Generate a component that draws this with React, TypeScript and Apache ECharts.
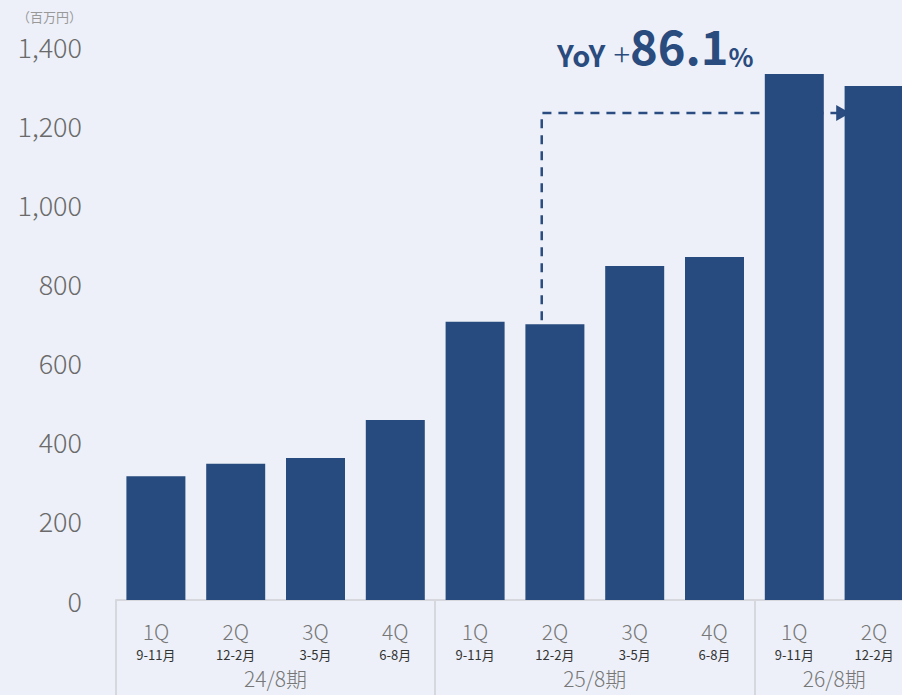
import React, { useEffect, useRef } from "react";
import * as echarts from "echarts";

const quarters = ["1Q", "2Q", "3Q", "4Q", "1Q", "2Q", "3Q", "4Q", "1Q", "2Q"];
const months = ["9-11月", "12-2月", "3-5月", "6-8月", "9-11月", "12-2月", "3-5月", "6-8月", "9-11月", "12-2月"];
const sales = [313, 344, 359, 455, 703, 697, 844, 867, 1329, 1299];
const periods = ["24/8期", "25/8期", "26/8期"];
const periodFirst = [0, 4, 8];
const periodLast = [3, 7, 9];
const yMin = 0;
const yMax = 1400;
const yInterval = 200;
const unitLabel = "（百万円）";
const yoyValue = "86.1";
const yoyFrom = 5;
const yoyTo = 9;
const arrowLevel = 1231;

const FONT = "'Noto Sans CJK JP', 'Noto Sans', sans-serif";
const NAVY = "#274b7e";
const BG = "#edf0f8";

export default function App() {
  const ref = useRef<HTMLDivElement>(null);
  useEffect(() => {
    document.body.style.margin = "0";
    const chart = echarts.init(ref.current!, null, { renderer: "svg" });
    chart.setOption({
      animation: false,
      backgroundColor: BG,
      grid: { left: 116, top: 46, width: 798, height: 554, containLabel: false, outerBoundsMode: "none" },
      xAxis: {
        type: "category",
        data: quarters.map((q, i) => q + " " + months[i]),
        axisLine: { show: true, lineStyle: { color: "#d6d8dd", width: 2 } },
        axisTick: {
          show: true,
          interval: (i: number) => i % 4 === 0,
          length: 96,
          lineStyle: { color: "#d6d8dd", width: 2 },
        },
        axisLabel: {
          interval: 0,
          margin: 18,
          formatter: (_v: string, i: number) => `{q|${quarters[i]}}\n{m|${months[i]}}`,
          rich: {
            q: { fontFamily: FONT, fontSize: 21, fontWeight: 300, color: "#777", lineHeight: 26 },
            m: { fontFamily: FONT, fontSize: 13, color: "#333", lineHeight: 20 },
          },
        },
      },
      yAxis: {
        type: "value",
        min: yMin,
        max: yMax,
        interval: yInterval,
        axisLine: { show: false },
        axisTick: { show: false },
        splitLine: { show: false },
        axisLabel: {
          margin: 34,
          fontFamily: FONT,
          fontSize: 27,
          fontWeight: 300,
          color: "#6a6a6a",
          formatter: (v: number) => v.toLocaleString("en-US"),
        },
      },
      series: [
        {
          type: "bar",
          data: sales,
          barWidth: 59,
          itemStyle: { color: NAVY },
          z: 2,
        },
      ],
    });

    const px = (i: number, v: number) =>
      chart.convertToPixel({ xAxisIndex: 0, yAxisIndex: 0 }, [i, v]) as number[];
    const band = px(1, 0)[0] - px(0, 0)[0];
    const start = px(yoyFrom, sales[yoyFrom]);
    const top = px(yoyFrom, arrowLevel);
    const end = px(yoyTo, arrowLevel);
    const vx = start[0] - band * 0.165;
    const tipX = end[0] - band * 0.3;
    const graphic: any[] = [
      {
        type: "text",
        left: 17,
        top: 10,
        style: { text: unitLabel, fontFamily: FONT, fontSize: 13, fill: "#999" },
      },
      {
        type: "polyline",
        z: 0,
        shape: { points: [[vx, start[1] - 4], [vx, top[1]], [tipX - 8, top[1]]] },
        style: { stroke: "#2b4c80", lineWidth: 2.5, lineDash: [9, 7], fill: null },
      },
      {
        type: "polygon",
        z: 0,
        shape: { points: [[tipX - 14, top[1] - 8], [tipX, top[1]], [tipX - 14, top[1] + 8]] },
        style: { fill: "#2b4c80" },
      },
      {
        type: "text",
        x: 557,
        y: 68,
        style: {
          text: `{a|YoY}{s| }{b|+}{c|${yoyValue}}{d|%}`,
          verticalAlign: "bottom",
          rich: {
            a: { fontFamily: FONT, fontSize: 29, fontWeight: "bold", fill: "#2a4b7e", verticalAlign: "bottom" },
            s: { fontFamily: FONT, fontSize: 36, fill: "#2a4b7e", verticalAlign: "bottom" },
            b: { fontFamily: FONT, fontSize: 31, fontWeight: 300, fill: "#2a4b7e", verticalAlign: "bottom" },
            c: { fontFamily: FONT, fontSize: 47, fontWeight: "bold", fill: "#2a4b7e", verticalAlign: "bottom" },
            d: { fontFamily: FONT, fontSize: 26, fontWeight: "bold", fill: "#2a4b7e", verticalAlign: "bottom" },
          },
        },
      },
    ];
    periods.forEach((p, k) => {
      const a = px(periodFirst[k], 0)[0];
      const b = px(periodLast[k], 0)[0];
      graphic.push({
        type: "text",
        x: (a + b) / 2,
        y: 678,
        style: {
          text: p,
          fontFamily: FONT,
          fontSize: 21,
          fontWeight: 300,
          fill: "#777",
          align: "center",
          verticalAlign: "middle",
        },
      });
    });
    chart.setOption({ graphic });
    return () => chart.dispose();
  }, []);
  return <div ref={ref} style={{ width: 902, height: 695 }} />;
}
